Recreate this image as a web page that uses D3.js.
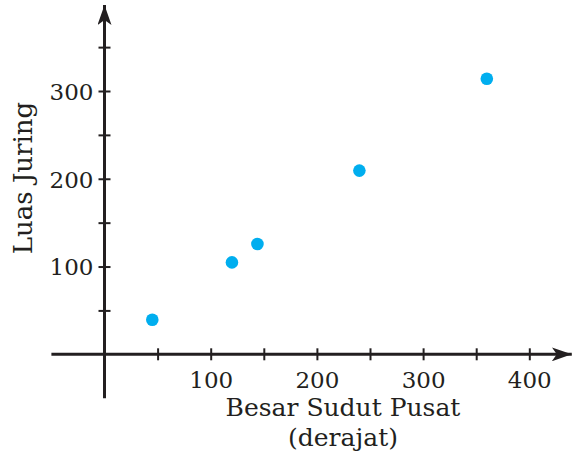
<!DOCTYPE html>
<html>
<head>
	<title>Luas Juring</title>
	<script src="https://d3js.org/d3.v7.min.js" charset="utf-8"></script>
	<style>
		body { margin: 0; background: #fff; }
		text { font-family: "DejaVu Serif", serif; fill: #231f20; }
	</style>
</head>
<body>
<script type="text/javascript">
	// data
	var sudut = [45, 120, 144, 240, 360];
	var luas = [39.3, 104.7, 125.6, 209.3, 314];
	var xTickValues = [50, 100, 150, 200, 250, 300, 350, 400];
	var xTickLabels = ["", "100", "", "200", "", "300", "", "400"];
	var yTickValues = [50, 100, 150, 200, 250, 300, 350];
	var yTickLabels = ["", "100", "", "200", "", "300", ""];
	var xTitle = ["Besar Sudut Pusat", "(derajat)"];
	var yTitle = "Luas Juring";

	var svgWidth = 572, svgHeight = 456;
	var ink = "#231f20";

	var svg = d3.select("body")
		.append("svg")
		.attr("width", svgWidth)
		.attr("height", svgHeight);

	// origin at (104.5, 354.3)
	var x = d3.scaleLinear().domain([0, 400]).range([104.5, 529.3]),
		y = d3.scaleLinear().domain([0, 300]).range([354.3, 91]);

	// arrowhead
	svg.append("defs").append("marker")
		.attr("id", "arrow")
		.attr("viewBox", "0 0 20 14")
		.attr("refX", 20)
		.attr("refY", 7)
		.attr("markerWidth", 20)
		.attr("markerHeight", 14)
		.attr("markerUnits", "userSpaceOnUse")
		.attr("orient", "auto")
		.append("path")
		.attr("d", "M0,0 L20,7 L0,14 L5,7 Z")
		.attr("fill", ink);

	// x axis
	var xAxis = d3.axisBottom(x)
		.tickValues(xTickValues)
		.tickFormat(function(d, i) { return xTickLabels[i]; })
		.tickSizeOuter(0);

	var gx = svg.append("g")
		.attr("transform", "translate(0," + y(0) + ")")
		.call(xAxis);
	gx.select(".domain").remove();
	gx.selectAll(".tick line")
		.attr("y1", -6).attr("y2", 6)
		.attr("stroke", ink).attr("stroke-width", 2);
	gx.selectAll(".tick text")
		.attr("y", 34)
		.attr("dy", 0)
		.style("font-size", "23px")
		.attr("fill", ink);

	// y axis
	var yAxis = d3.axisLeft(y)
		.tickValues(yTickValues)
		.tickFormat(function(d, i) { return yTickLabels[i]; })
		.tickSizeOuter(0);

	var gy = svg.append("g")
		.attr("transform", "translate(" + x(0) + ",0)")
		.call(yAxis);
	gy.select(".domain").remove();
	gy.selectAll(".tick line")
		.attr("x1", -6).attr("x2", 6)
		.attr("stroke", ink).attr("stroke-width", 2);
	gy.selectAll(".tick text")
		.attr("x", -11)
		.attr("dy", "0.36em")
		.style("font-size", "23px")
		.attr("fill", ink);

	// main axis lines with arrows
	svg.append("line")
		.attr("x1", x(-50)).attr("x2", x(440))
		.attr("y1", y(0)).attr("y2", y(0))
		.attr("stroke", ink).attr("stroke-width", 3)
		.attr("marker-end", "url(#arrow)");

	svg.append("line")
		.attr("x1", x(0)).attr("x2", x(0))
		.attr("y1", y(-50)).attr("y2", y(398))
		.attr("stroke", ink).attr("stroke-width", 3)
		.attr("marker-end", "url(#arrow)");

	// points
	svg.selectAll("circle")
		.data(sudut)
		.enter().append("circle")
		.attr("cx", function(d) { return x(d); })
		.attr("cy", function(d, i) { return y(luas[i]); })
		.attr("r", 6.3)
		.attr("fill", "#00aeef");

	// titles
	svg.selectAll(".xtitle")
		.data(xTitle)
		.enter().append("text")
		.attr("class", "xtitle")
		.attr("x", 343)
		.attr("y", function(d, i) { return 416 + i * 30; })
		.attr("text-anchor", "middle")
		.style("font-size", "25px")
		.text(function(d) { return d; });

	svg.append("text")
		.attr("transform", "translate(31.5," + 178 + ") rotate(-90)")
		.attr("text-anchor", "middle")
		.style("font-size", "26px")
		.text(yTitle);
</script>
</body>
</html>
